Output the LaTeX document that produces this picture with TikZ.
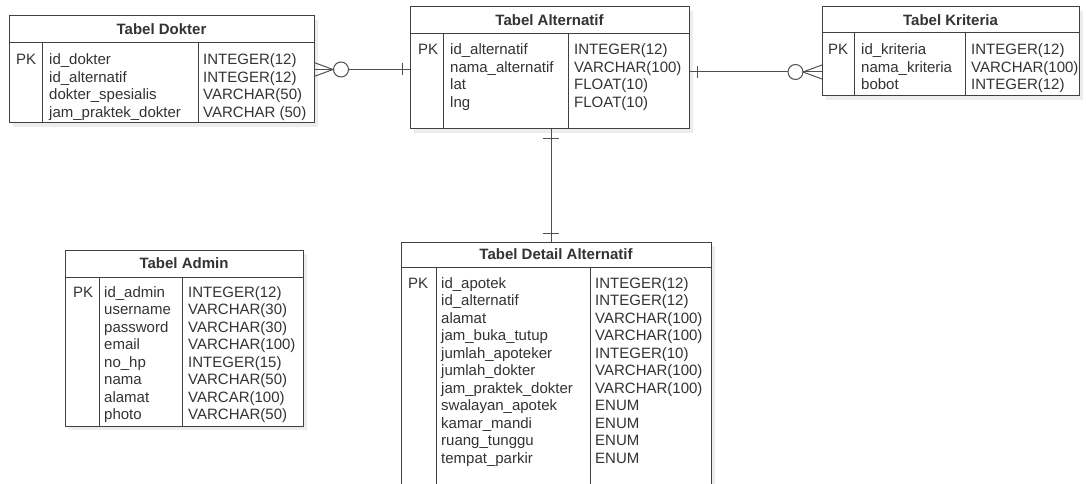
\documentclass[tikz,border=0pt]{standalone}
\usepackage{fontspec}
\setmainfont{Liberation Sans}
\usetikzlibrary{calc}
\definecolor{linec}{HTML}{404040}
\definecolor{textc}{HTML}{333333}
\definecolor{relc}{HTML}{505050}

\tikzset{
  frame/.style={draw=linec, line width=1pt, fill=white, inner sep=0pt, outer sep=0pt},
  rule/.style={draw=linec, line width=1pt},
  shadowbox/.style={fill=black!7, draw=none},
  title/.style={font=\bfseries\fontsize{15}{17.5}\selectfont, text=textc, inner sep=0pt},
  cell/.style={font=\fontsize{15}{17.5}\selectfont, text=textc, anchor=base west, inner sep=0pt},
  rel/.style={draw=relc, line width=1pt},
}

% #1 name, #2 left, #3 top, #4 right, #5 header bottom, #6 bottom,
% #7 PK divider, #8 type divider, #9 title
\newcommand\ertable[9]{%
  \fill[shadowbox] (#2+4,#3+4) rectangle (#4+4,#6+4);
  \node[frame, anchor=north west, minimum width=#4-#2, minimum height=#6-#3] (#1) at (#2,#3) {};
  \draw[rule] (#2,#5) -- (#4,#5);
  \draw[rule] (#7,#5) -- (#7,#6);
  \draw[rule] (#8,#5) -- (#8,#6);
  \node[title] (#1-title) at ({(#2+#4)/2},{(#3+#5)/2}) {#9};
}

% #1 name, #2 PK x, #3 field x, #4 type x, #5 first baseline, #6 fields, #7 types
\newcommand\erfields[7]{%
  \node[cell] (#1-pk) at (#2,#5) {PK};
  \foreach \t [count=\i] in {#6} {\node[cell] (#1-n\i) at (#3,{#5+17.5*(\i-1)}) {\t};}
  \foreach \t [count=\i] in {#7} {\node[cell] (#1-t\i) at (#4,{#5+17.5*(\i-1)}) {\t};}
}

\begin{document}
\begin{tikzpicture}[x=1pt,y=-1pt]
\clip (0,0) rectangle (1086,484);
\fill[white] (0,0) rectangle (1086,484);

% Tabel Dokter
\ertable{dokter}{9}{16}{314}{43}{123}{42}{198}{Tabel Dokter}
\erfields{dokter}{16}{49}{203}{65}
  {id\_dokter, id\_alternatif, dokter\_spesialis, jam\_praktek\_dokter}
  {INTEGER(12), INTEGER(12), VARCHAR(50), VARCHAR (50)}

% Tabel Alternatif
\ertable{alt}{410}{7}{689}{34}{129}{443}{568}{Tabel Alternatif}
\erfields{alt}{418}{450}{574}{55}
  {id\_alternatif, nama\_alternatif, lat, lng}
  {INTEGER(12), VARCHAR(100), FLOAT(10), FLOAT(10)}

% Tabel Kriteria
\ertable{krit}{822}{7}{1079}{33}{96}{854}{965}{Tabel Kriteria}
\erfields{krit}{828}{861}{971}{55}
  {id\_kriteria, nama\_kriteria, bobot}
  {INTEGER(12), VARCHAR(100), INTEGER(12)}

% Tabel Admin
\ertable{admin}{65}{250}{303}{277}{426}{99}{182}{Tabel Admin}
\erfields{admin}{73}{104}{188}{297}
  {id\_admin, username, password, email, no\_hp, nama, alamat, photo}
  {INTEGER(12), VARCHAR(30), VARCHAR(30), VARCHAR(100), INTEGER(15), VARCHAR(50), VARCAR(100), VARCHAR(50)}

% Tabel Detail Alternatif
\ertable{detail}{401}{242}{711}{267}{500}{436}{590}{Tabel Detail Alternatif}
\erfields{detail}{408}{441}{595}{288}
  {id\_apotek, id\_alternatif, alamat, jam\_buka\_tutup, jumlah\_apoteker, jumlah\_dokter, jam\_praktek\_dokter, swalayan\_apotek, kamar\_mandi, ruang\_tunggu, tempat\_parkir}
  {INTEGER(12), INTEGER(12), VARCHAR(100), VARCHAR(100), INTEGER(10), VARCHAR(100), VARCHAR(100), ENUM, ENUM, ENUM, ENUM}

% Dokter (many, optional) -- Alternatif (one)
\coordinate (da) at (dokter.east);
\coordinate (ad) at (da -| alt.west);
\draw[rel] ($(da)+(0,-7)$) -- ($(da)+(19,0)$) -- ($(da)+(0,7)$);
\draw[rel] (da) -- ($(da)+(19.5,0)$);
\draw[rel] ($(da)+(27,0)$) circle[radius=7.5];
\draw[rel] ($(da)+(34.5,0)$) -- (ad);
\draw[rel] ($(ad)+(-8,-6)$) -- ($(ad)+(-8,6)$);

% Alternatif (one) -- Kriteria (many, optional)
\coordinate (ak) at ($(alt.east)+(0,4)$);
\coordinate (ka) at (ak -| krit.west);
\draw[rel] ($(ka)+(0,-7)$) -- ($(ka)+(-19,0)$) -- ($(ka)+(0,7)$);
\draw[rel] (ka) -- ($(ka)+(-19.5,0)$);
\draw[rel] ($(ka)+(-26.5,0)$) circle[radius=7.5];
\draw[rel] (ak) -- ($(ka)+(-34,0)$);
\draw[rel] ($(ak)+(8,-6)$) -- ($(ak)+(8,6)$);

% Alternatif (one) -- Detail Alternatif (one)
\coordinate (av) at ($(alt.south)+(1.5,0)$);
\coordinate (va) at (av |- detail.north);
\draw[rel] (av) -- (va);
\draw[rel] ($(av)+(-8,9)$) -- ($(av)+(8,9)$);
\draw[rel] ($(va)+(-8,-9)$) -- ($(va)+(8,-9)$);
\end{tikzpicture}
\end{document}
